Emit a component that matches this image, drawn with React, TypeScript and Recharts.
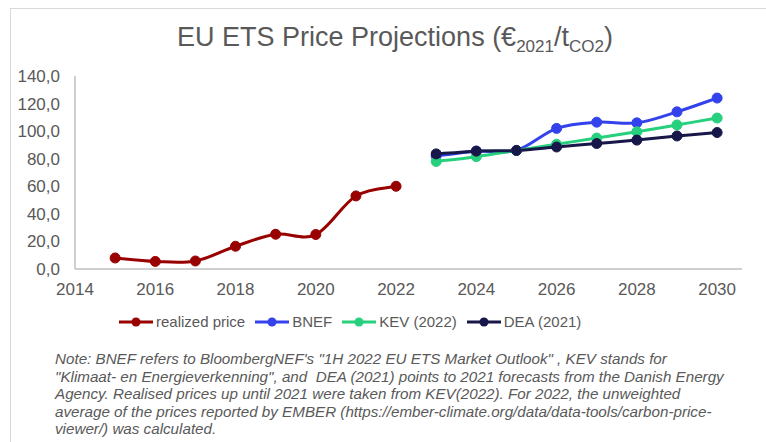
import React from "react";
import { LineChart, Line, XAxis, YAxis } from "recharts";

const realizedYears = [2015, 2016, 2017, 2018, 2019, 2020, 2021, 2022];
const realizedPrice = [8.0, 5.5, 5.8, 16.5, 25.2, 25.0, 53.0, 60.0];

const projectionYears = [2023, 2024, 2025, 2026, 2027, 2028, 2029, 2030];
const bnef = [82.0, 85.5, 86.0, 102.0, 106.5, 106.0, 114.0, 124.0];
const kev = [78.0, 81.5, 86.0, 90.5, 95.0, 99.5, 104.5, 109.5];
const dea = [83.5, 85.5, 86.0, 88.5, 91.0, 93.5, 96.5, 99.0];

const xTicks = [2014, 2016, 2018, 2020, 2022, 2024, 2026, 2028, 2030];
const yTicks = [0, 20, 40, 60, 80, 100, 120, 140];

const C_REAL = "#990000";
const C_BNEF = "#3442EC";
const C_KEV = "#26D07C";
const C_DEA = "#17174A";
const GREY = "#595959";
const FONT = "'Liberation Sans', Arial, sans-serif";

const data = [
  ...realizedYears.map((year, i) => ({ year, realized: realizedPrice[i] })),
  ...projectionYears.map((year, i) => ({ year, bnef: bnef[i], kev: kev[i], dea: dea[i] })),
];

const legendItems = [
  { name: "realized price", color: C_REAL },
  { name: "BNEF", color: C_BNEF },
  { name: "KEV (2022)", color: C_KEV },
  { name: "DEA (2021)", color: C_DEA },
];

const noteLines = [
  'Note: BNEF refers to BloombergNEF\'s "1H 2022 EU ETS Market Outlook" , KEV stands for',
  '"Klimaat- en Energieverkenning", and  DEA (2021) points to 2021 forecasts from the Danish Energy',
  "Agency. Realised prices up until 2021 were taken from KEV(2022). For 2022, the unweighted",
  "average of the prices reported by EMBER (https://ember-climate.org/data/data-tools/carbon-price-",
  "viewer/) was calculated.",
];

const fmt = (v: number) => v.toFixed(1).replace(".", ",");

// Excel-style smoothed line (Catmull-Rom as cubic beziers)
function smoothCurve(context: any) {
  let pts: number[][] = [];
  return {
    areaStart() {},
    areaEnd() {},
    lineStart() {
      pts = [];
    },
    point(x: number, y: number) {
      pts.push([+x, +y]);
    },
    lineEnd() {
      if (!pts.length) return;
      context.moveTo(pts[0][0], pts[0][1]);
      for (let i = 0; i < pts.length - 1; i++) {
        const p0 = pts[i - 1] || pts[i];
        const p1 = pts[i];
        const p2 = pts[i + 1];
        const p3 = pts[i + 2] || p2;
        const t = 1 / 6;
        context.bezierCurveTo(
          p1[0] + (p2[0] - p0[0]) * t,
          p1[1] + (p2[1] - p0[1]) * t,
          p2[0] - (p3[0] - p1[0]) * t,
          p2[1] - (p3[1] - p1[1]) * t,
          p2[0],
          p2[1]
        );
      }
    },
  };
}

export default function App() {
  const lineProps = {
    type: smoothCurve as any,
    strokeWidth: 3,
    isAnimationActive: false,
    connectNulls: false,
  };
  return (
    <div style={{ position: "fixed", left: 0, top: 0, width: 766, height: 442, background: "#fff", overflow: "hidden", fontFamily: FONT }}>
      <div style={{ position: "absolute", left: 10, top: 8, width: 800, height: 500, border: "1px solid #d9d9d9" }} />
      <div style={{ position: "absolute", left: 0, width: 790, top: 22, textAlign: "center", fontSize: 27, color: GREY }}>
        EU ETS Price Projections (€<sub style={{ fontSize: 17 }}>2021</sub>/t<sub style={{ fontSize: 17 }}>CO2</sub>)
      </div>
      <div style={{ position: "absolute", left: 0, top: 0 }}>
        <LineChart width={766} height={300} data={data} margin={{ top: 76, right: 24, left: 0, bottom: 0 }}>
          <XAxis
            type="number"
            dataKey="year"
            domain={[2014, 2030.62]}
            ticks={xTicks}
            allowDataOverflow
            tickLine={false}
            tickMargin={8}
            height={31}
            stroke="#bfbfbf"
            strokeWidth={1.5}
            tick={{ fill: GREY, fontSize: 17, fontFamily: FONT }}
          />
          <YAxis
            domain={[0, 140]}
            ticks={yTicks}
            width={75}
            tickLine={false}
            tickMargin={9}
            tickFormatter={fmt}
            stroke="#bfbfbf"
            strokeWidth={1.5}
            tick={{ fill: GREY, fontSize: 17, fontFamily: FONT }}
          />
          <Line {...lineProps} dataKey="realized" stroke={C_REAL} dot={{ r: 5, fill: C_REAL, stroke: C_REAL, strokeWidth: 1 }} />
          <Line {...lineProps} dataKey="bnef" stroke={C_BNEF} dot={{ r: 5, fill: C_BNEF, stroke: C_BNEF, strokeWidth: 1 }} />
          <Line {...lineProps} dataKey="kev" stroke={C_KEV} dot={{ r: 5, fill: C_KEV, stroke: C_KEV, strokeWidth: 1 }} />
          <Line {...lineProps} dataKey="dea" stroke={C_DEA} dot={{ r: 5, fill: C_DEA, stroke: C_DEA, strokeWidth: 1 }} />
        </LineChart>
      </div>
      <div style={{ position: "absolute", left: 119, top: 313, display: "flex", alignItems: "center", fontSize: 15, color: GREY }}>
        {legendItems.map((it) => (
          <div key={it.name} style={{ display: "flex", alignItems: "center", marginRight: 10 }}>
            <svg width={34} height={12} style={{ marginRight: 3 }}>
              <line x1={0} y1={6} x2={34} y2={6} stroke={it.color} strokeWidth={3} />
              <circle cx={17} cy={6} r={4.5} fill={it.color} />
            </svg>
            <span>{it.name}</span>
          </div>
        ))}
      </div>
      <div style={{ position: "absolute", left: 55, top: 350, fontSize: 15.2, lineHeight: "17.6px", fontStyle: "italic", color: GREY, whiteSpace: "pre" }}>
        {noteLines.map((l, i) => (
          <div key={i}>{l}</div>
        ))}
      </div>
    </div>
  );
}
